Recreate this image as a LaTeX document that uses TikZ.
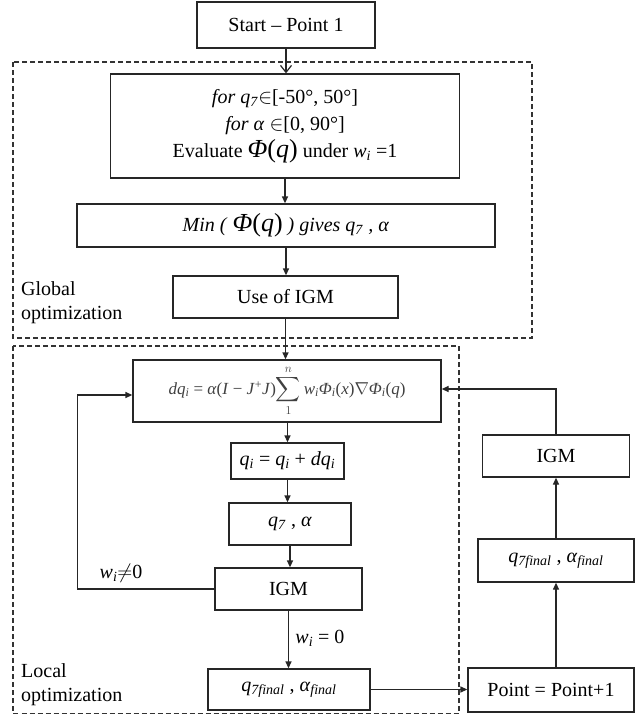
\documentclass[tikz,border=0pt]{standalone}
\usepackage{fontspec}
\usepackage{amsmath}
\setmainfont{Liberation Serif}
\usetikzlibrary{arrows.meta,calc}
\newcommand{\sbi}[1]{\textsubscript{\textit{#1}}}
\begin{document}
\begin{tikzpicture}[x=1pt,y=-1pt,
  box/.style={draw=black!85, line width=1.3pt, rectangle, inner sep=0pt, align=center, font=\fontsize{20}{27}\selectfont},
  arr/.style={draw=black!85, line width=1.3pt, -{Triangle[length=7pt,width=6pt]}},
  openarr/.style={draw=black!85, line width=1.3pt, -{Straight Barb[length=7pt,width=11pt,line width=1.2pt]}},
  grp/.style={draw=black!80, line width=1.4pt, dash pattern=on 5pt off 3pt},
  lbl/.style={font=\fontsize{20}{24}\selectfont, inner sep=0pt, align=left},
  cond/.style={font=\fontsize{20}{24}\selectfont, inner sep=0pt}
]
\useasboundingbox (0,0) rectangle (635,715);

% groups
\draw[grp] (13,62) rectangle (532,338);
\draw[grp] (13,346) rectangle (459,713.5);
\node[lbl, anchor=west] (glob) at (21,303) {Global\\optimization};
\node[lbl, anchor=west] (loc) at (21,685) {Local\\optimization};

% main column
\node[box, minimum width=178pt, minimum height=46pt] (start) at (286,25) {Start – Point 1};
\node[box, minimum width=349pt, minimum height=104pt] (loop) at (285,126)
  {\textit{for q}\sbi{7}$\in$[-50°, 50°]\\
   \textit{for α} $\in$[0, 90°]\\
   Evaluate {\fontsize{26}{27}\selectfont\textit{Φ}(\textit{q})} under \textit{w}\sbi{i} =1};
\node[box, minimum width=418pt, minimum height=43pt] (minb) at (286,225.5)
  {\textit{Min (} {\fontsize{26}{27}\selectfont\textit{Φ}(\textit{q})} \textit{) gives q}\sbi{7} \textit{, α}};
\node[box, minimum width=225pt, minimum height=42pt] (use) at (285.5,297) {Use of IGM};
\node[box, minimum width=308pt, minimum height=62pt, text=black!75, font=\fontsize{17}{20}\selectfont] (dq) at (287,391)
  {\textit{dq}\sbi{i} = \textit{α}(\textit{I} − \textit{J}\textsuperscript{+}\textit{J})$\displaystyle\sum\limits_{1}^{n}$\,\textit{w}\sbi{i}\textit{Φ}\sbi{i}(\textit{x})$\nabla$\textit{Φ}\sbi{i}(\textit{q})};
\node[box, minimum width=113pt, minimum height=36pt] (qi) at (287.5,461)
  {\textit{q}\sbi{i} = \textit{q}\sbi{i} + \textit{dq}\sbi{i}};
\node[box, minimum width=122pt, minimum height=42pt] (q7) at (290,524)
  {\textit{q}\sbi{7} , \textit{α}};
\node[box, minimum width=147pt, minimum height=42pt] (igm) at (288.5,589) {IGM};
\node[box, minimum width=162pt, minimum height=41pt] (fin) at (289,689.5)
  {\textit{q}\sbi{7final} , \textit{α}\sbi{final}};

% right column
\node[box, minimum width=166pt, minimum height=44pt] (point) at (551,690) {Point = Point+1};
\node[box, minimum width=156pt, minimum height=43pt] (finR) at (556,560.5)
  {\textit{q}\sbi{7final} , \textit{α}\sbi{final}};
\node[box, minimum width=147pt, minimum height=42pt] (igmR) at (556,456) {IGM};

% connectors
\draw[openarr] (start.south) -- (start.south |- loop.north);
\draw[arr] (loop.south) -- (loop.south |- minb.north);
\draw[arr] (minb.south) -- (minb.south |- use.north);
\draw[arr] (use.south) -- (use.south |- dq.north);
\draw[arr] (dq.south -| qi.north) -- (qi.north);
\draw[arr] (qi.south) -- (qi.south |- q7.north);
\draw[arr] (q7.south) -- (q7.south |- igm.north);
\draw[arr] (igm.south) -- (igm.south |- fin.north);
\draw[arr] (igm.west) -- ++(-137,0) |- ([yshift=-4pt]dq.west);
\draw[arr] (fin.east) -- (fin.east -| point.west);
\draw[arr] (point.north -| finR.south) -- (finR.south);
\draw[arr] (finR.north -| igmR.south) -- (igmR.south);
\draw[arr] (igmR.north) |- ([yshift=2pt]dq.east);

% condition labels
\node[cond] (cne) at (121,573) {\textit{w}\sbi{i}$\neq$0};
\node[cond] (ceq) at (320,638) {\textit{w}\sbi{i} = 0};
\end{tikzpicture}
\end{document}
